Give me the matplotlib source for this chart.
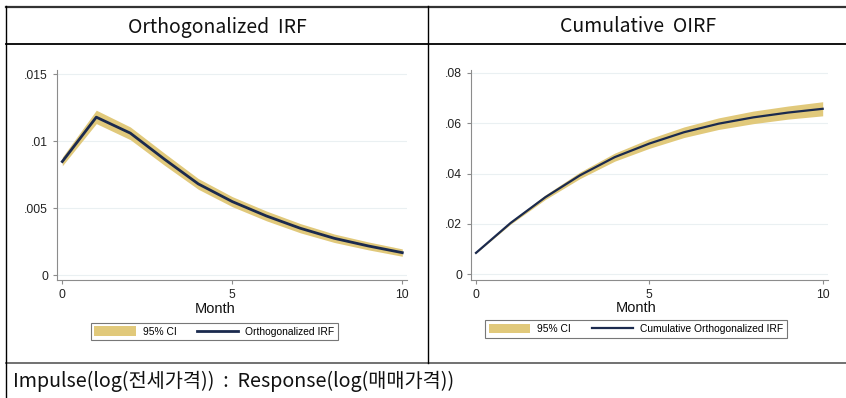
import numpy as np
import matplotlib
matplotlib.use("Agg")
import matplotlib.pyplot as plt

# Impulse: log(전세가격), response: log(매매가격), horizon in months
months = np.arange(0, 11)

oirf = [0.00847, 0.01178, 0.01059, 0.00865, 0.00680, 0.00548,
        0.00441, 0.00349, 0.00274, 0.00217, 0.00167]
oirf_lo = [0.00815, 0.01130, 0.01010, 0.00820, 0.00640, 0.00510,
           0.00405, 0.00315, 0.00243, 0.00188, 0.00140]
oirf_hi = [0.00880, 0.01230, 0.01105, 0.00910, 0.00720, 0.00585,
           0.00478, 0.00384, 0.00306, 0.00247, 0.00195]

coirf = [0.0085, 0.0204, 0.0306, 0.0393, 0.0465, 0.0519,
         0.0564, 0.0598, 0.0623, 0.0642, 0.0657]
coirf_lo = [0.0084, 0.0199, 0.0297, 0.0380, 0.0449, 0.0500,
            0.0543, 0.0575, 0.0598, 0.0616, 0.0629]
coirf_hi = [0.0086, 0.0209, 0.0315, 0.0406, 0.0481, 0.0538,
            0.0585, 0.0621, 0.0648, 0.0668, 0.0685]

left_yticks = [0, 0.005, 0.01, 0.015]
left_ylabels = ["0", ".005", ".01", ".015"]
right_yticks = [0, 0.02, 0.04, 0.06, 0.08]
right_ylabels = ["0", ".02", ".04", ".06", ".08"]
xticks = [0, 5, 10]

panel_titles = ["Orthogonalized  IRF", "Cumulative  OIRF"]
line_labels = ["Orthogonalized IRF", "Cumulative Orthogonalized IRF"]
ci_label = "95% CI"
footer = "Impulse(log(전세가격))  :  Response(log(매매가격))"

W, H = 846, 398
BAND = "#E1C97B"
NAVY = "#1B2A4E"
AXC = "#8C8C8C"
GRID = "#EAF0F2"

fig = plt.figure(figsize=(W / 100, H / 100), dpi=100)
fig.patch.set_facecolor("white")

# frame axes in pixel units for the table lines and text
frame = fig.add_axes([0, 0, 1, 1])
frame.set_xlim(0, W)
frame.set_ylim(H, 0)
frame.axis("off")
frame.plot([6, 846], [6.5, 6.5], color="#333333", lw=1.6)
frame.plot([6, 846], [44.3, 44.3], color="black", lw=1.3)
frame.plot([6, 846], [362.7, 362.7], color="#666666", lw=1.3)
frame.plot([6, 6], [6, 398], color="black", lw=1.0)
frame.plot([428.3, 428.3], [6, 362.7], color="black", lw=1.0)

kr = ["Noto Sans CJK KR", "DejaVu Sans"]
frame.text(217, 27, panel_titles[0], ha="center", va="center",
           fontsize=14, family=kr, color="#111111")
frame.text(638, 27, panel_titles[1], ha="center", va="center",
           fontsize=14, family=kr, color="#111111")
frame.text(13, 381, footer, ha="left", va="center",
           fontsize=14.2, family=kr, color="#111111")


def px_axes(x0, x1, y0, y1):
    return fig.add_axes([x0 / W, (H - y1) / H, (x1 - x0) / W, (y1 - y0) / H])


def style(ax, yticks, ylabels):
    for s in ["top", "right"]:
        ax.spines[s].set_visible(False)
    for s in ["left", "bottom"]:
        ax.spines[s].set_color(AXC)
        ax.spines[s].set_linewidth(0.8)
    ax.set_xticks(xticks)
    ax.set_yticks(yticks)
    ax.set_yticklabels(ylabels)
    ax.tick_params(colors=AXC, length=3, width=0.8, labelcolor="#222222",
                   labelsize=8.8)
    for t in ax.get_xticklabels() + ax.get_yticklabels():
        t.set_family("Liberation Sans")
    ax.grid(axis="y", color=GRID, lw=0.8)
    ax.set_axisbelow(True)


tfont = dict(family="Liberation Sans", color="#111111")
lfont = {"family": "Liberation Sans", "size": 7.4}

# left panel: orthogonalized IRF
ax1 = px_axes(57, 407, 70, 280)
b1 = ax1.fill_between(months, oirf_lo, oirf_hi, color=BAND, lw=0, label=ci_label)
l1, = ax1.plot(months, oirf, color=NAVY, lw=2.0, label=line_labels[0])
ax1.set_xlim(-0.156, 10.138)
ax1.set_ylim(-0.00037, 0.0153)
style(ax1, left_yticks, left_ylabels)
frame.text(215, 309, "Month", ha="center", va="center", fontsize=10.5, **tfont)
leg1 = fig.legend([b1, l1], [ci_label, line_labels[0]], ncol=2,
                  loc="center", bbox_to_anchor=(214.5 / W, (H - 331.5) / H),
                  frameon=True, fancybox=False, handlelength=4.0,
                  handleheight=1.0, handletextpad=0.7, columnspacing=2.0,
                  borderpad=0.35, prop=lfont)
leg1.get_frame().set_edgecolor("#555555")
leg1.get_frame().set_linewidth(0.8)

# right panel: cumulative OIRF
ax2 = px_axes(471, 828, 70, 279.5)
b2 = ax2.fill_between(months, coirf_lo, coirf_hi, color=BAND, lw=0, label=ci_label)
l2, = ax2.plot(months, coirf, color=NAVY, lw=1.6, label=line_labels[1])
ax2.set_xlim(-0.144, 10.153)
ax2.set_ylim(-0.00206, 0.0811)
style(ax2, right_yticks, right_ylabels)
frame.text(636, 308, "Month", ha="center", va="center", fontsize=10.5, **tfont)
leg2 = fig.legend([b2, l2], [ci_label, line_labels[1]], ncol=2,
                  loc="center", bbox_to_anchor=(636 / W, (H - 329) / H),
                  frameon=True, fancybox=False, handlelength=4.0,
                  handleheight=1.0, handletextpad=0.7, columnspacing=2.0,
                  borderpad=0.35, prop=lfont)
leg2.get_frame().set_edgecolor("#555555")
leg2.get_frame().set_linewidth(0.8)

fig.savefig("out.png", dpi=100)
